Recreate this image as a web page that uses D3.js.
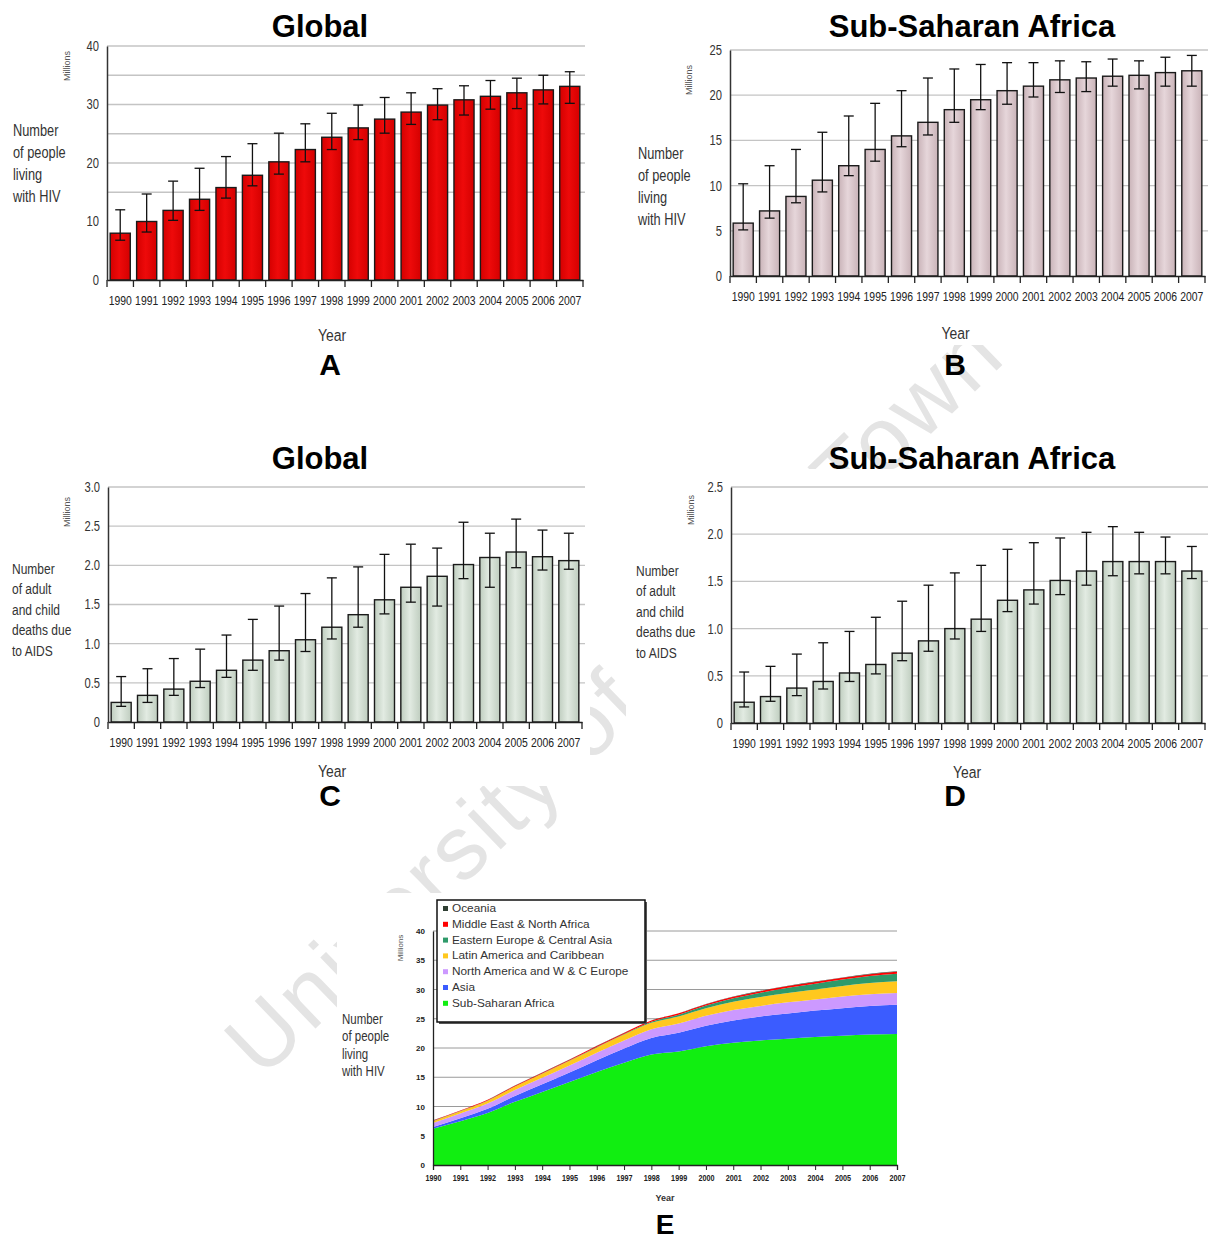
<!DOCTYPE html>
<html>
<head>
<meta charset="utf-8">
<title>HIV and AIDS 1990-2007</title>
<script src="https://d3js.org/d3.v7.min.js"></script>
<style>
  body { margin: 0; background: #fff; }
  svg { display: block; }
  text { font-family: "Liberation Sans", Arial, sans-serif; }
  .title { font-weight: bold; }
</style>
</head>
<body>
<div id="chart"></div>
<script>
// ---- data (millions) ----
const years = d3.range(1990, 2008);

const globalHiv     = [8.0, 10.0, 11.9, 13.8, 15.8, 17.9, 20.2, 22.3, 24.4, 26.0, 27.5, 28.7, 29.9, 30.8, 31.4, 32.0, 32.5, 33.1];
const globalHivLow  = [6.8, 8.2, 10.2, 11.9, 14.0, 16.1, 18.1, 20.2, 22.3, 24.0, 25.1, 26.6, 27.4, 28.2, 29.2, 29.3, 30.1, 30.2];
const globalHivHigh = [12.0, 14.7, 16.9, 19.1, 21.1, 23.3, 25.1, 26.7, 28.5, 29.9, 31.2, 32.0, 32.7, 33.2, 34.1, 34.5, 35.0, 35.6];

const ssaHiv     = [5.85, 7.2, 8.8, 10.6, 12.2, 14.0, 15.5, 17.0, 18.4, 19.5, 20.5, 21.0, 21.7, 21.9, 22.1, 22.2, 22.5, 22.7];
const ssaHivLow  = [5.1, 6.4, 8.1, 9.3, 11.1, 12.7, 14.3, 15.6, 17.0, 18.4, 19.0, 19.8, 20.3, 20.4, 21.0, 20.7, 21.0, 21.0];
const ssaHivHigh = [10.2, 12.2, 14.0, 15.9, 17.7, 19.1, 20.5, 21.9, 22.9, 23.4, 23.6, 23.6, 23.8, 23.7, 24.0, 23.8, 24.2, 24.4];

const globalDeaths     = [0.25, 0.34, 0.42, 0.52, 0.66, 0.79, 0.91, 1.05, 1.21, 1.37, 1.56, 1.72, 1.86, 2.01, 2.10, 2.17, 2.11, 2.06];
const globalDeathsLow  = [0.20, 0.25, 0.34, 0.44, 0.57, 0.66, 0.79, 0.90, 1.06, 1.21, 1.38, 1.53, 1.48, 1.83, 1.72, 1.97, 1.94, 1.95];
const globalDeathsHigh = [0.58, 0.68, 0.81, 0.93, 1.11, 1.31, 1.48, 1.64, 1.84, 1.98, 2.14, 2.27, 2.22, 2.55, 2.41, 2.59, 2.45, 2.41];

const ssaDeaths     = [0.22, 0.28, 0.37, 0.44, 0.53, 0.62, 0.74, 0.87, 1.00, 1.10, 1.30, 1.41, 1.51, 1.61, 1.71, 1.71, 1.71, 1.61];
const ssaDeathsLow  = [0.17, 0.23, 0.29, 0.36, 0.44, 0.52, 0.66, 0.76, 0.89, 0.97, 1.18, 1.26, 1.36, 1.46, 1.56, 1.58, 1.58, 1.53];
const ssaDeathsHigh = [0.54, 0.60, 0.73, 0.85, 0.97, 1.12, 1.29, 1.46, 1.59, 1.67, 1.84, 1.91, 1.96, 2.02, 2.08, 2.02, 1.97, 1.87];

// panel E: people living with HIV by region (stacked)
const regions = ["Sub-Saharan Africa", "Asia", "North America and W & C Europe",
                 "Latin America and Caribbean", "Eastern Europe & Central Asia",
                 "Middle East & North Africa", "Oceania"];
const regionSSA  = [6.2, 7.5, 8.9, 10.8, 12.5, 14.2, 15.9, 17.5, 18.9, 19.4, 20.3, 20.9, 21.3, 21.6, 21.9, 22.1, 22.3, 22.4];
const regionAsia = [0.3, 0.5, 0.7, 1.0, 1.3, 1.6, 2.0, 2.4, 2.8, 3.2, 3.5, 3.8, 4.1, 4.3, 4.5, 4.7, 4.9, 5.0];
const regionNA   = [0.7, 0.8, 0.9, 1.0, 1.1, 1.2, 1.3, 1.4, 1.5, 1.6, 1.7, 1.8, 1.8, 1.9, 1.9, 2.0, 2.0, 2.0];
const regionLA   = [0.3, 0.4, 0.5, 0.6, 0.7, 0.8, 0.9, 1.0, 1.1, 1.2, 1.3, 1.4, 1.5, 1.6, 1.7, 1.8, 1.9, 2.0];
const regionEE   = [0.02, 0.02, 0.03, 0.03, 0.04, 0.05, 0.07, 0.1, 0.18, 0.3, 0.45, 0.6, 0.75, 0.9, 1.0, 1.1, 1.2, 1.3];
const regionME   = [0.1, 0.1, 0.12, 0.13, 0.14, 0.15, 0.17, 0.18, 0.2, 0.22, 0.24, 0.25, 0.27, 0.28, 0.3, 0.31, 0.32, 0.33];
const regionOce  = [0.01, 0.01, 0.01, 0.02, 0.02, 0.02, 0.03, 0.03, 0.03, 0.04, 0.04, 0.05, 0.05, 0.05, 0.06, 0.06, 0.07, 0.07];
const regionColors = ["#11ee11", "#3b5cff", "#cc99ff", "#ffc81e", "#2e9a6a", "#ff0000", "#2f3f33"];

const W = 1208, H = 1239;
const SQ = 0.8;   // horizontal squeeze to mimic the narrow font of the original

const svg = d3.select("#chart")
    .append("svg")
    .attr("width", W)
    .attr("height", H);

const defs = svg.append("defs");
function barGradient(id, edge, mid) {
    const g = defs.append("linearGradient").attr("id", id)
        .attr("x1", "0%").attr("x2", "100%").attr("y1", "0%").attr("y2", "0%");
    g.append("stop").attr("offset", "0%").attr("stop-color", edge);
    g.append("stop").attr("offset", "45%").attr("stop-color", mid);
    g.append("stop").attr("offset", "100%").attr("stop-color", edge);
}
barGradient("gRed", "#d40000", "#ee0a0a");
barGradient("gPink", "#c9b3b8", "#e6d6da");
barGradient("gGreen", "#bfcdbf", "#e2ebe2");

// narrow multi-line label
function narrowText(x, y, lines, size, lh, opts = {}) {
    const g = svg.append("g")
        .attr("transform", `translate(${x},${y}) scale(${opts.sq || SQ},1)`);
    const t = g.append("text")
        .attr("font-size", size)
        .attr("fill", opts.fill || "#333")
        .attr("text-anchor", opts.anchor || "start");
    lines.forEach((s, i) => {
        t.append("tspan").attr("x", 0).attr("dy", i === 0 ? 0 : lh).text(s);
    });
    return t;
}

// watermark (sits behind the panels)
svg.append("text")
    .attr("transform", "translate(262,1080) rotate(-44)")
    .attr("font-size", 90)
    .attr("textLength", 1035)
    .attr("fill", "#e4e4e4")
    .text("University of Cape Town");

// white panel backgrounds that hide the watermark
const panelBoxes = [
    [0, 40, 590, 305], [627, 40, 581, 305],
    [0, 476, 590, 310], [626, 469, 582, 316],
    [337, 893, 578, 312]
];
svg.selectAll(".panelbg")
    .data(panelBoxes)
    .enter()
    .append("rect")
    .attr("x", d => d[0]).attr("y", d => d[1])
    .attr("width", d => d[2]).attr("height", d => d[3])
    .attr("fill", "#fff");

function barPanel(p) {
    const g = svg.append("g");

    const x = d3.scaleBand()
        .domain(years)
        .range([p.x0, p.x1])
        .paddingInner(0.24)
        .paddingOuter(0.12);

    const y = d3.scaleLinear()
        .domain([0, p.max])
        .range([p.yBot, p.yTop]);

    // gridlines
    g.selectAll(".grid")
        .data(p.grid)
        .enter()
        .append("line")
        .attr("x1", p.x0).attr("x2", p.gridRight)
        .attr("y1", d => y(d)).attr("y2", d => y(d))
        .attr("stroke", "#c4c4c4")
        .attr("stroke-width", 1.3);

    // bars
    g.selectAll(".bar")
        .data(years)
        .enter()
        .append("rect")
        .attr("x", d => x(d))
        .attr("y", (d, i) => y(p.values[i]))
        .attr("width", x.bandwidth())
        .attr("height", (d, i) => p.yBot - y(p.values[i]))
        .attr("fill", p.fill)
        .attr("stroke", "#1a1a1a")
        .attr("stroke-width", 1.4);

    // error bars
    const cap = 5;
    const cx = d => x(d) + x.bandwidth() / 2;
    const err = g.selectAll(".err")
        .data(years)
        .enter()
        .append("g")
        .attr("stroke", "#111")
        .attr("stroke-width", 1.3);
    err.append("line")
        .attr("x1", cx).attr("x2", cx)
        .attr("y1", (d, i) => y(p.low[i])).attr("y2", (d, i) => y(p.high[i]));
    err.append("line")
        .attr("x1", d => cx(d) - cap).attr("x2", d => cx(d) + cap)
        .attr("y1", (d, i) => y(p.high[i])).attr("y2", (d, i) => y(p.high[i]));
    err.append("line")
        .attr("x1", d => cx(d) - cap).attr("x2", d => cx(d) + cap)
        .attr("y1", (d, i) => y(p.low[i])).attr("y2", (d, i) => y(p.low[i]));

    // y axis
    const ya = g.append("g")
        .attr("transform", `translate(${p.x0},0)`)
        .call(d3.axisLeft(y).tickValues(p.ticks).tickSize(0).tickPadding(8).tickFormat(p.fmt));
    ya.select(".domain").attr("stroke", "#333").attr("stroke-width", 1.5);
    ya.selectAll("text")
        .attr("font-size", 14).attr("fill", "#333")
        .attr("x", -8 / SQ)
        .attr("transform", `scale(${SQ},1)`);

    // x axis
    const xa = g.append("g")
        .attr("transform", `translate(0,${p.yBot})`)
        .call(d3.axisBottom(x).tickSize(0).tickPadding(16));
    xa.select(".domain").attr("stroke", "#222").attr("stroke-width", 1.5);
    xa.selectAll("text")
        .attr("font-size", 13).attr("fill", "#222")
        .attr("transform", `scale(${SQ},1)`);
    const step = x.step();
    const firstEdge = x(years[0]) - step * x.paddingInner() / 2;
    xa.selectAll(".edge")
        .data(d3.range(years.length + 1))
        .enter()
        .append("line")
        .attr("x1", i => i === 0 ? p.x0 : Math.min(firstEdge + i * step, p.x1))
        .attr("x2", i => i === 0 ? p.x0 : Math.min(firstEdge + i * step, p.x1))
        .attr("y1", 0).attr("y2", 7)
        .attr("stroke", "#222").attr("stroke-width", 1.3);

    // titles and labels
    svg.append("text").attr("class", "title")
        .attr("x", p.titleX).attr("y", p.titleY)
        .attr("text-anchor", "middle").attr("font-size", 31)
        .text(p.title);

    svg.append("text")
        .attr("transform", `translate(${p.millX},${p.millY}) rotate(-90)`)
        .attr("text-anchor", "middle").attr("font-size", 9).attr("fill", "#555")
        .text("Millions");

    narrowText(p.labX, p.labY, p.label, p.labSize, p.labLH);

    narrowText((p.x0 + p.x1) / 2 + p.yearDx, p.yearY, ["Year"], 17, 0, { anchor: "middle", sq: 0.82 });

    svg.append("text").attr("class", "title")
        .attr("x", p.letterX).attr("y", p.letterY)
        .attr("text-anchor", "middle").attr("font-size", 30)
        .text(p.letter);
}

const fmtInt = d => String(d);
const fmtDec = d => d === 0 ? "0" : d3.format(".1f")(d);
const peopleLabel = ["Number", "of people", "living", "with HIV"];
const deathsLabel = ["Number", "of adult", "and child", "deaths due", "to AIDS"];

barPanel({
    x0: 107, x1: 583, yTop: 46, yBot: 280, max: 40, gridRight: 585,
    ticks: [0, 10, 20, 30, 40], grid: [15, 20, 25, 30, 35, 40], fmt: fmtInt,
    values: globalHiv, low: globalHivLow, high: globalHivHigh, fill: "url(#gRed)",
    title: "Global", titleX: 320, titleY: 37,
    millX: 70, millY: 66, label: peopleLabel, labX: 13, labY: 136, labLH: 22, labSize: 16,
    yearDx: -13, yearY: 341, letter: "A", letterX: 330, letterY: 375
});

barPanel({
    x0: 730, x1: 1205, yTop: 50, yBot: 276, max: 25, gridRight: 1208,
    ticks: [0, 5, 10, 15, 20, 25], grid: [5, 10, 15, 20, 25], fmt: fmtInt,
    values: ssaHiv, low: ssaHivLow, high: ssaHivHigh, fill: "url(#gPink)",
    title: "Sub-Saharan Africa", titleX: 972, titleY: 37,
    millX: 692, millY: 80, label: peopleLabel, labX: 638, labY: 159, labLH: 22, labSize: 16,
    yearDx: -12, yearY: 339, letter: "B", letterX: 955, letterY: 375
});

barPanel({
    x0: 108, x1: 582, yTop: 487, yBot: 722, max: 3.0, gridRight: 585,
    ticks: [0, 0.5, 1, 1.5, 2, 2.5, 3], grid: [0.5, 1, 1.5, 2, 2.5, 3], fmt: fmtDec,
    values: globalDeaths, low: globalDeathsLow, high: globalDeathsHigh, fill: "url(#gGreen)",
    title: "Global", titleX: 320, titleY: 469,
    millX: 70, millY: 512, label: deathsLabel, labX: 12, labY: 574, labLH: 20.5, labSize: 15,
    yearDx: -13, yearY: 777, letter: "C", letterX: 330, letterY: 806
});

barPanel({
    x0: 731, x1: 1205, yTop: 487, yBot: 723, max: 2.5, gridRight: 1208,
    ticks: [0, 0.5, 1, 1.5, 2, 2.5], grid: [0.5, 1, 1.5, 2, 2.5], fmt: fmtDec,
    values: ssaDeaths, low: ssaDeathsLow, high: ssaDeathsHigh, fill: "url(#gGreen)",
    title: "Sub-Saharan Africa", titleX: 972, titleY: 469,
    millX: 694, millY: 510, label: deathsLabel, labX: 636, labY: 576, labLH: 20.5, labSize: 15,
    yearDx: -1, yearY: 778, letter: "D", letterX: 955, letterY: 806
});

// ---- panel E: stacked area ----
(function () {
    const g = svg.append("g");
    const x0 = 433, x1 = 897, yTop = 931, yBot = 1165;
    const x = d3.scalePoint().domain(years).range([x0, x1]);
    const y = d3.scaleLinear().domain([0, 40]).range([yBot, yTop]);

    const series = [regionSSA, regionAsia, regionNA, regionLA, regionEE, regionME, regionOce];
    const table = years.map((yr, i) => {
        const row = { year: yr };
        regions.forEach((r, k) => { row[r] = series[k][i]; });
        return row;
    });
    const stacked = d3.stack().keys(regions)(table);

    g.selectAll(".grid")
        .data([5, 10, 15, 20, 25, 30, 35, 40])
        .enter()
        .append("line")
        .attr("x1", x0).attr("x2", x1)
        .attr("y1", d => y(d)).attr("y2", d => y(d))
        .attr("stroke", "#9a9a9a").attr("stroke-width", 1);

    const area = d3.area()
        .x(d => x(d.data.year))
        .y0(d => y(d[0]))
        .y1(d => y(d[1]))
        .curve(d3.curveMonotoneX);

    g.selectAll(".layer")
        .data(stacked)
        .enter()
        .append("path")
        .attr("d", area)
        .attr("fill", (d, i) => regionColors[i]);

    const ya = g.append("g")
        .attr("transform", `translate(${x0},0)`)
        .call(d3.axisLeft(y).tickValues(d3.range(0, 41, 5)).tickSize(0).tickPadding(8));
    ya.select(".domain").attr("stroke", "#222").attr("stroke-width", 1.3);
    ya.selectAll("text")
        .attr("font-size", 8).attr("font-weight", "bold").attr("fill", "#222");

    const xa = g.append("g")
        .attr("transform", `translate(0,${yBot})`)
        .call(d3.axisBottom(x).tickSize(5).tickPadding(5));
    xa.select(".domain").attr("stroke", "#222").attr("stroke-width", 1.3);
    xa.selectAll(".tick line").attr("stroke", "#222");
    xa.selectAll("text")
        .attr("font-size", 8.5).attr("font-weight", "bold").attr("fill", "#222")
        .attr("transform", "scale(0.85,1)");

    svg.append("text")
        .attr("transform", "translate(403,948) rotate(-90)")
        .attr("text-anchor", "middle").attr("font-size", 8).attr("fill", "#555")
        .text("Millions");

    narrowText(342, 1024, peopleLabel, 14, 17.5, { sq: 0.82 });

    svg.append("text")
        .attr("x", 665).attr("y", 1201)
        .attr("text-anchor", "middle").attr("font-size", 9).attr("font-weight", "bold").attr("fill", "#333")
        .text("Year");

    svg.append("text").attr("class", "title")
        .attr("x", 665).attr("y", 1234)
        .attr("text-anchor", "middle").attr("font-size", 28)
        .text("E");

    // legend (top of stack first)
    const lg = svg.append("g").attr("transform", "translate(437,900)");
    lg.append("rect").attr("x", 2).attr("y", 2).attr("width", 208).attr("height", 122).attr("fill", "#555");
    lg.append("rect").attr("width", 208).attr("height", 122)
        .attr("fill", "#fff").attr("stroke", "#111").attr("stroke-width", 1.5);
    const order = d3.range(regions.length).reverse();
    const item = lg.selectAll(".item")
        .data(order)
        .enter()
        .append("g")
        .attr("transform", (d, i) => `translate(6,${12 + i * 15.8})`);
    item.append("rect").attr("x", 0).attr("y", -6).attr("width", 5).attr("height", 5)
        .attr("fill", d => regionColors[d]);
    item.append("text")
        .attr("x", 9).attr("y", 0).attr("font-size", 11.8).attr("fill", "#333")
        .text(d => regions[d]);
})();
</script>
</body>
</html>
